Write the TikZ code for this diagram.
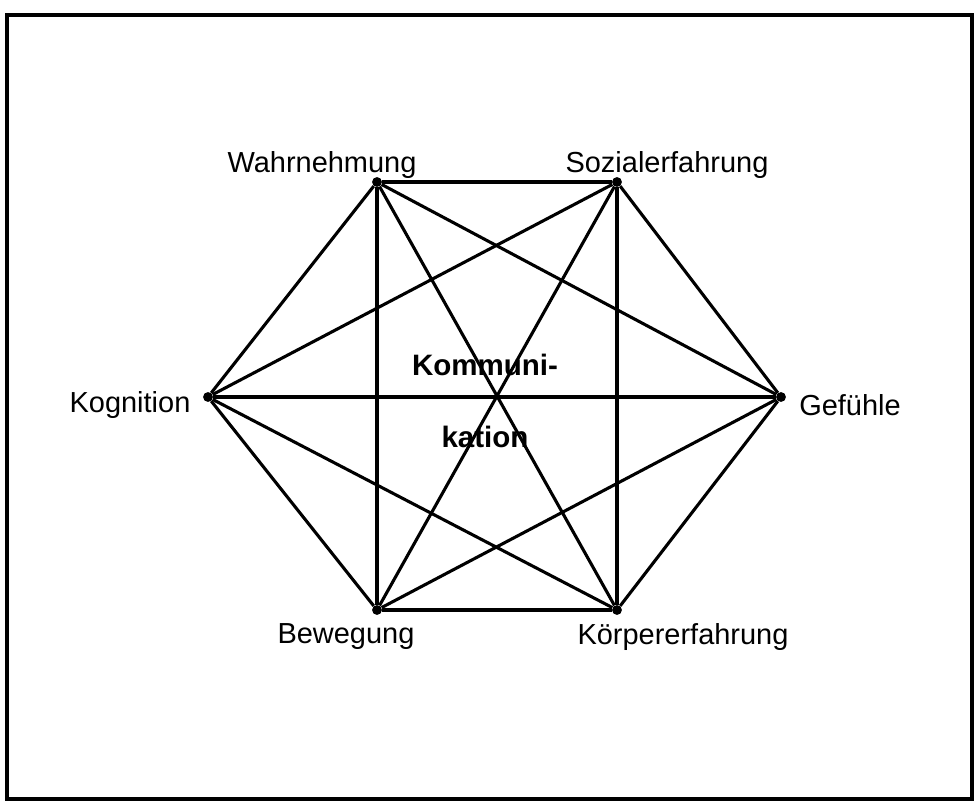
\documentclass[tikz,border=0pt]{standalone}
\usepackage{fontspec}
\setmainfont{Liberation Sans}
\usetikzlibrary{positioning}

\begin{document}
\begin{tikzpicture}[
    x=0.025cm, y=-0.025cm,
    vertex/.style={circle, fill=black, inner sep=0pt, minimum size=7pt},
    label/.style={font=\fontsize{20.6}{24}\selectfont, inner sep=0pt},
    center/.style={font=\fontsize{21}{24}\selectfont\bfseries, inner sep=0pt},
    edge/.style={line width=2.2pt}
]
\useasboundingbox (0,0) rectangle (974,802);

% frame
\draw[line width=3.2pt] (7,15) rectangle (972,799);

% corners of the hexagon
\node[vertex] (wahr) at (377,182) {};
\node[vertex] (sozi) at (617,182) {};
\node[vertex] (gef) at (781,397) {};
\node[vertex] (koer) at (617,610) {};
\node[vertex] (bew) at (377,610) {};
\node[vertex] (kog) at (208,397) {};

% all connections
\foreach \a/\b in {wahr/sozi, wahr/gef, wahr/koer, wahr/bew, wahr/kog,
                   sozi/gef, sozi/koer, sozi/bew, sozi/kog,
                   gef/koer, gef/bew, gef/kog,
                   koer/bew, koer/kog,
                   bew/kog}
    \draw[edge] (\a) -- (\b);

% labels
\node[label] (lwahr) at (322,165) {Wahrnehmung};
\node[label] (lsozi) at (667,165) {Sozialerfahrung};
\node[label] (lgef) at (850,405) {Gefühle};
\node[label] (lkoer) at (683,637) {Körpererfahrung};
\node[label] (lbew) at (346,637) {Bewegung};
\node[label] (lkog) at (130,405) {Kognition};

\node[center] (komm) at (485,365) {Kommuni-};
\node[center] (kat) at (485,437) {kation};

\end{tikzpicture}
\end{document}
